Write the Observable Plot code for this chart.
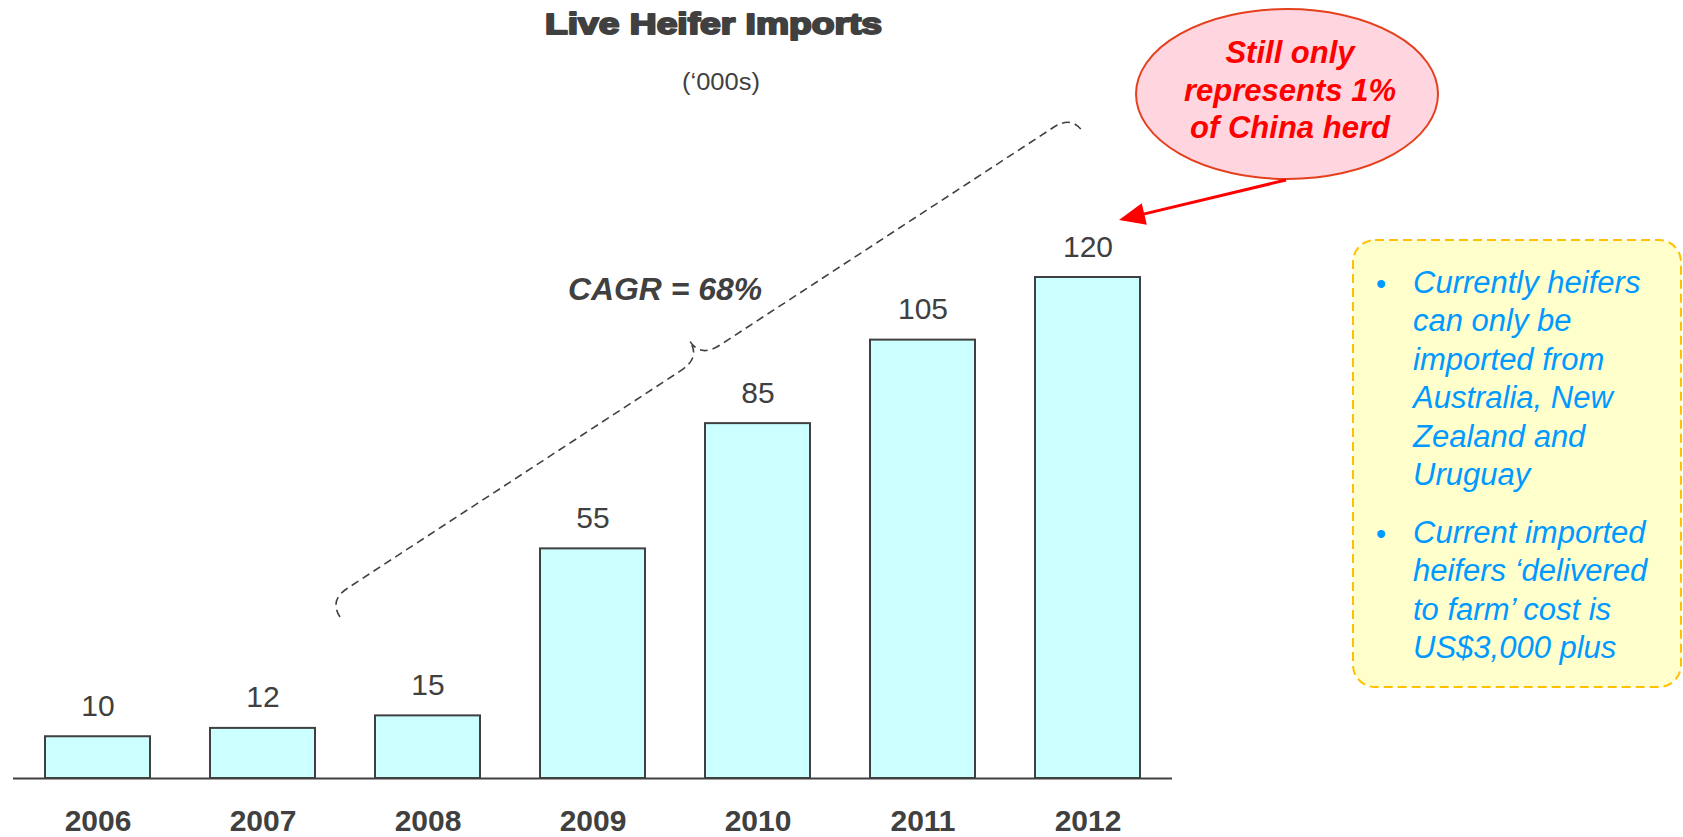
<!DOCTYPE html>
<html><head><meta charset="utf-8">
<script src="https://cdn.jsdelivr.net/npm/d3@7"></script>
<script src="https://cdn.jsdelivr.net/npm/@observablehq/plot@0.6"></script>
<style>
html,body{margin:0;padding:0;background:#fff;}
#chart{position:relative;width:1683px;height:837px;overflow:hidden;}
</style></head><body><div id="chart"></div>
<script>
const years = ["2006","2007","2008","2009","2010","2011","2012"];
const imports = [10, 12, 15, 55, 85, 105, 120];
const titleText = "Live Heifer Imports";
const subtitleText = "(‘000s)";
const cagrText = "CAGR = 68%";
const calloutLines = ["Still only", "represents 1%", "of China herd"];
const bullet1 = ["Currently heifers", "can only be", "imported from", "Australia, New", "Zealand and", "Uruguay"];
const bullet2 = ["Current imported", "heifers ‘delivered", "to farm’ cost is", "US$3,000 plus"];

const data = years.map((year, i) => ({year, value: imports[i]}));
const FONT = "'Liberation Sans', Arial, Helvetica, sans-serif";
const DARK = "#404040";

const plot = Plot.plot({
  width: 1683, height: 837,
  marginLeft: 13, marginRight: 511, marginTop: 277, marginBottom: 59,
  style: {fontFamily: FONT, background: "#fff", overflow: "visible"},
  x: {domain: years, paddingInner: 0.366, paddingOuter: 0.183, label: null},
  y: {domain: [0, 120], axis: null},
  marks: [
    Plot.barY(data, {x: "year", y: "value", fill: "#ccffff", stroke: DARK, strokeWidth: 2}),
    Plot.ruleY([0], {stroke: DARK, strokeWidth: 2.2}),
    Plot.text(data, {x: "year", y: "value", text: d => String(d.value), dy: -21, lineAnchor: "bottom", fontSize: 30, fill: DARK}),
    Plot.axisX({tickSize: 0, tickPadding: 31, fontSize: 30, fontWeight: "bold", fill: DARK, label: null})
  ]
});
document.getElementById("chart").appendChild(plot);

const svg = d3.select(plot);
const g = svg.append("g").attr("font-family", FONT).attr("text-anchor", "start");

// Title and subtitle
g.append("text").attr("x", 713.5).attr("y", 34).attr("text-anchor", "middle")
  .attr("font-size", 29.5).attr("font-weight", 900).attr("fill", DARK)
  .attr("stroke", DARK).attr("stroke-width", 2).attr("stroke-linejoin", "round")
  .attr("textLength", 337).attr("lengthAdjust", "spacingAndGlyphs")
  .text(titleText);
g.append("text").attr("x", 721).attr("y", 90).attr("text-anchor", "middle")
  .attr("font-size", 23).attr("fill", DARK)
  .attr("textLength", 78).attr("lengthAdjust", "spacingAndGlyphs")
  .text(subtitleText);

// CAGR label
g.append("text").attr("x", 568).attr("y", 300).attr("text-anchor", "start")
  .attr("font-size", 31).attr("font-weight", "bold").attr("font-style", "italic").attr("fill", DARK)
  .attr("textLength", 194).attr("lengthAdjust", "spacingAndGlyphs")
  .text(cagrText);

// Dashed brace along the growth
{
  const L = [340, 617], U = [1083, 132];
  const dx = U[0] - L[0], dy = U[1] - L[1];
  const W = Math.hypot(dx, dy), ang = Math.atan2(dy, dx) * 180 / Math.PI;
  const h = 20, c = 40, m = W / 2;
  const p = `M0,0 C0,-12 6,-${h} 22,-${h} L${m - 24},-${h} C${m - 8},-${h} ${m},-${h + 6} ${m},-${c} C${m},-${h + 6} ${m + 8},-${h} ${m + 24},-${h} L${W - 22},-${h} C${W - 6},-${h} ${W},-12 ${W},0`;
  g.append("path").attr("d", p)
    .attr("transform", `translate(${L[0]},${L[1]}) rotate(${ang})`)
    .attr("fill", "none").attr("stroke", DARK).attr("stroke-width", 1.6)
    .attr("stroke-dasharray", "8,5");
}

// Callout ellipse
g.append("ellipse").attr("cx", 1287).attr("cy", 94).attr("rx", 151).attr("ry", 85)
  .attr("fill", "#ffd6df").attr("stroke", "#e5401e").attr("stroke-width", 2);
calloutLines.forEach((t, i) => {
  g.append("text").attr("x", 1290).attr("y", 63 + i * 37.5).attr("text-anchor", "middle")
    .attr("font-size", 31).attr("font-weight", "bold").attr("font-style", "italic")
    .attr("fill", "#ff0000").text(t);
});

// Arrow
{
  const s = [1286, 180], e = [1119, 220];
  const vx = e[0] - s[0], vy = e[1] - s[1], len = Math.hypot(vx, vy);
  const ux = vx / len, uy = vy / len, nx = -uy, ny = ux;
  const hl = 26, hw = 11;
  const bx = e[0] - ux * hl, by = e[1] - uy * hl;
  g.append("line").attr("x1", s[0]).attr("y1", s[1]).attr("x2", bx + ux * 2).attr("y2", by + uy * 2)
    .attr("stroke", "#ff0000").attr("stroke-width", 3);
  g.append("path").attr("d", `M${e[0]},${e[1]} L${bx + nx * hw},${by + ny * hw} L${bx - nx * hw},${by - ny * hw} Z`)
    .attr("fill", "#ff0000");
}

// Info box
g.append("rect").attr("x", 1353).attr("y", 240).attr("width", 328).attr("height", 447)
  .attr("rx", 22).attr("ry", 22)
  .attr("fill", "#ffffcc").attr("stroke", "#ffc000").attr("stroke-width", 2)
  .attr("stroke-dasharray", "9,5");
const BLUE = "#0099ff";
function bulletBlock(lines, y0) {
  g.append("text").attr("x", 1381).attr("y", y0 + 1).attr("text-anchor", "middle")
    .attr("font-size", 29).attr("fill", BLUE).text("•");
  lines.forEach((t, i) => {
    g.append("text").attr("x", 1413).attr("y", y0 + i * 38.4).attr("text-anchor", "start")
      .attr("font-size", 31).attr("font-style", "italic").attr("fill", BLUE).text(t);
  });
}
bulletBlock(bullet1, 293);
bulletBlock(bullet2, 543);
</script></body></html>
